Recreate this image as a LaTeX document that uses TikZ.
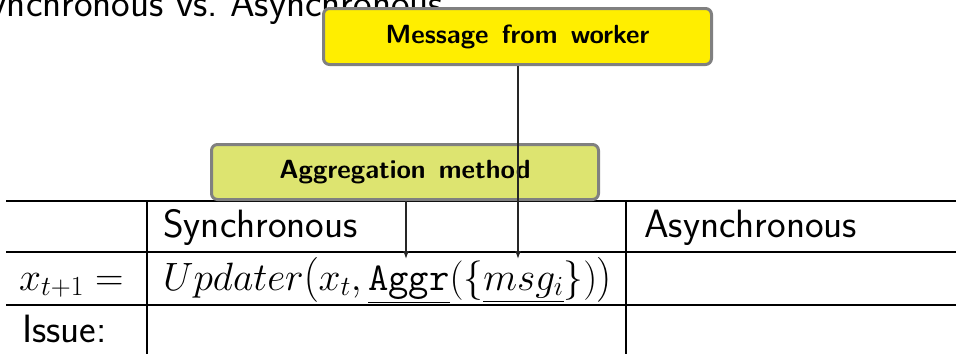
\RequirePackage{fix-cm}
\documentclass[tikz,border=0pt]{standalone}
\usepackage{amsmath}
\usetikzlibrary{arrows.meta}
\definecolor{msgyellow}{RGB}{255,238,0}
\definecolor{agggreen}{RGB}{221,228,112}
\definecolor{boxgray}{RGB}{128,128,128}
\tikzset{
  calloutbox/.style={draw=boxgray, line width=3pt, rounded corners=6pt, inner sep=0pt,
    font=\fontsize{26.3}{30}\selectfont\sffamily\bfseries, text=black},
  celltext/.style={anchor=base west, inner sep=0pt, font=\fontsize{39.5}{46}\selectfont\sffamily},
  rule/.style={line width=2.3pt, black},
  pointer/.style={line width=1.3pt, black!85, -{Latex[length=8pt,width=6pt]}}
}
\begin{document}
\begin{tikzpicture}[x=1pt,y=-1pt]
\useasboundingbox (0,0) rectangle (956,354);
\clip (0,0) rectangle (956,354);
% title (cut off by the frame)
\node[celltext] (title) at (-31,16) {Synchronous vs.\ Asynchronous};
% table rules
\draw[rule] (6,201) -- (956,201);
\draw[rule] (6,252) -- (956,252);
\draw[rule] (6,305) -- (956,305);
\draw[rule] (147,201) -- (147,354);
\draw[rule] (626,201) -- (626,354);
% cells
\node[celltext] (sync) at (163,237) {Synchronous};
\node[celltext] (async) at (644,237) {Asynchronous};
\node[celltext] (lhs) at (19,290) {$x_{t+1} =$};
\node[celltext] (rhs) at (163,290) {$Updater\big(x_t,\underline{\texttt{Aggr}}(\{\underline{msg_i}\})\big)$};
\node[celltext] (issue) at (22,342) {Issue:};
% callout boxes
\node[calloutbox, fill=msgyellow, minimum width=388pt, minimum height=56pt] (msg) at (517.5,36.5) {Message\hspace{0.5em}from\hspace{0.5em}worker};
\node[calloutbox, fill=agggreen, minimum width=387pt, minimum height=55pt] (agg) at (405,172) {Aggregation\hspace{0.5em}method};
% pointers
\coordinate (aggrtip) at (406,259);
\coordinate (msgtip) at (518,259);
\draw[pointer] (agg.south -| aggrtip) -- (aggrtip);
\draw[pointer] (msg.south -| msgtip) -- (msgtip);
\end{tikzpicture}
\end{document}
